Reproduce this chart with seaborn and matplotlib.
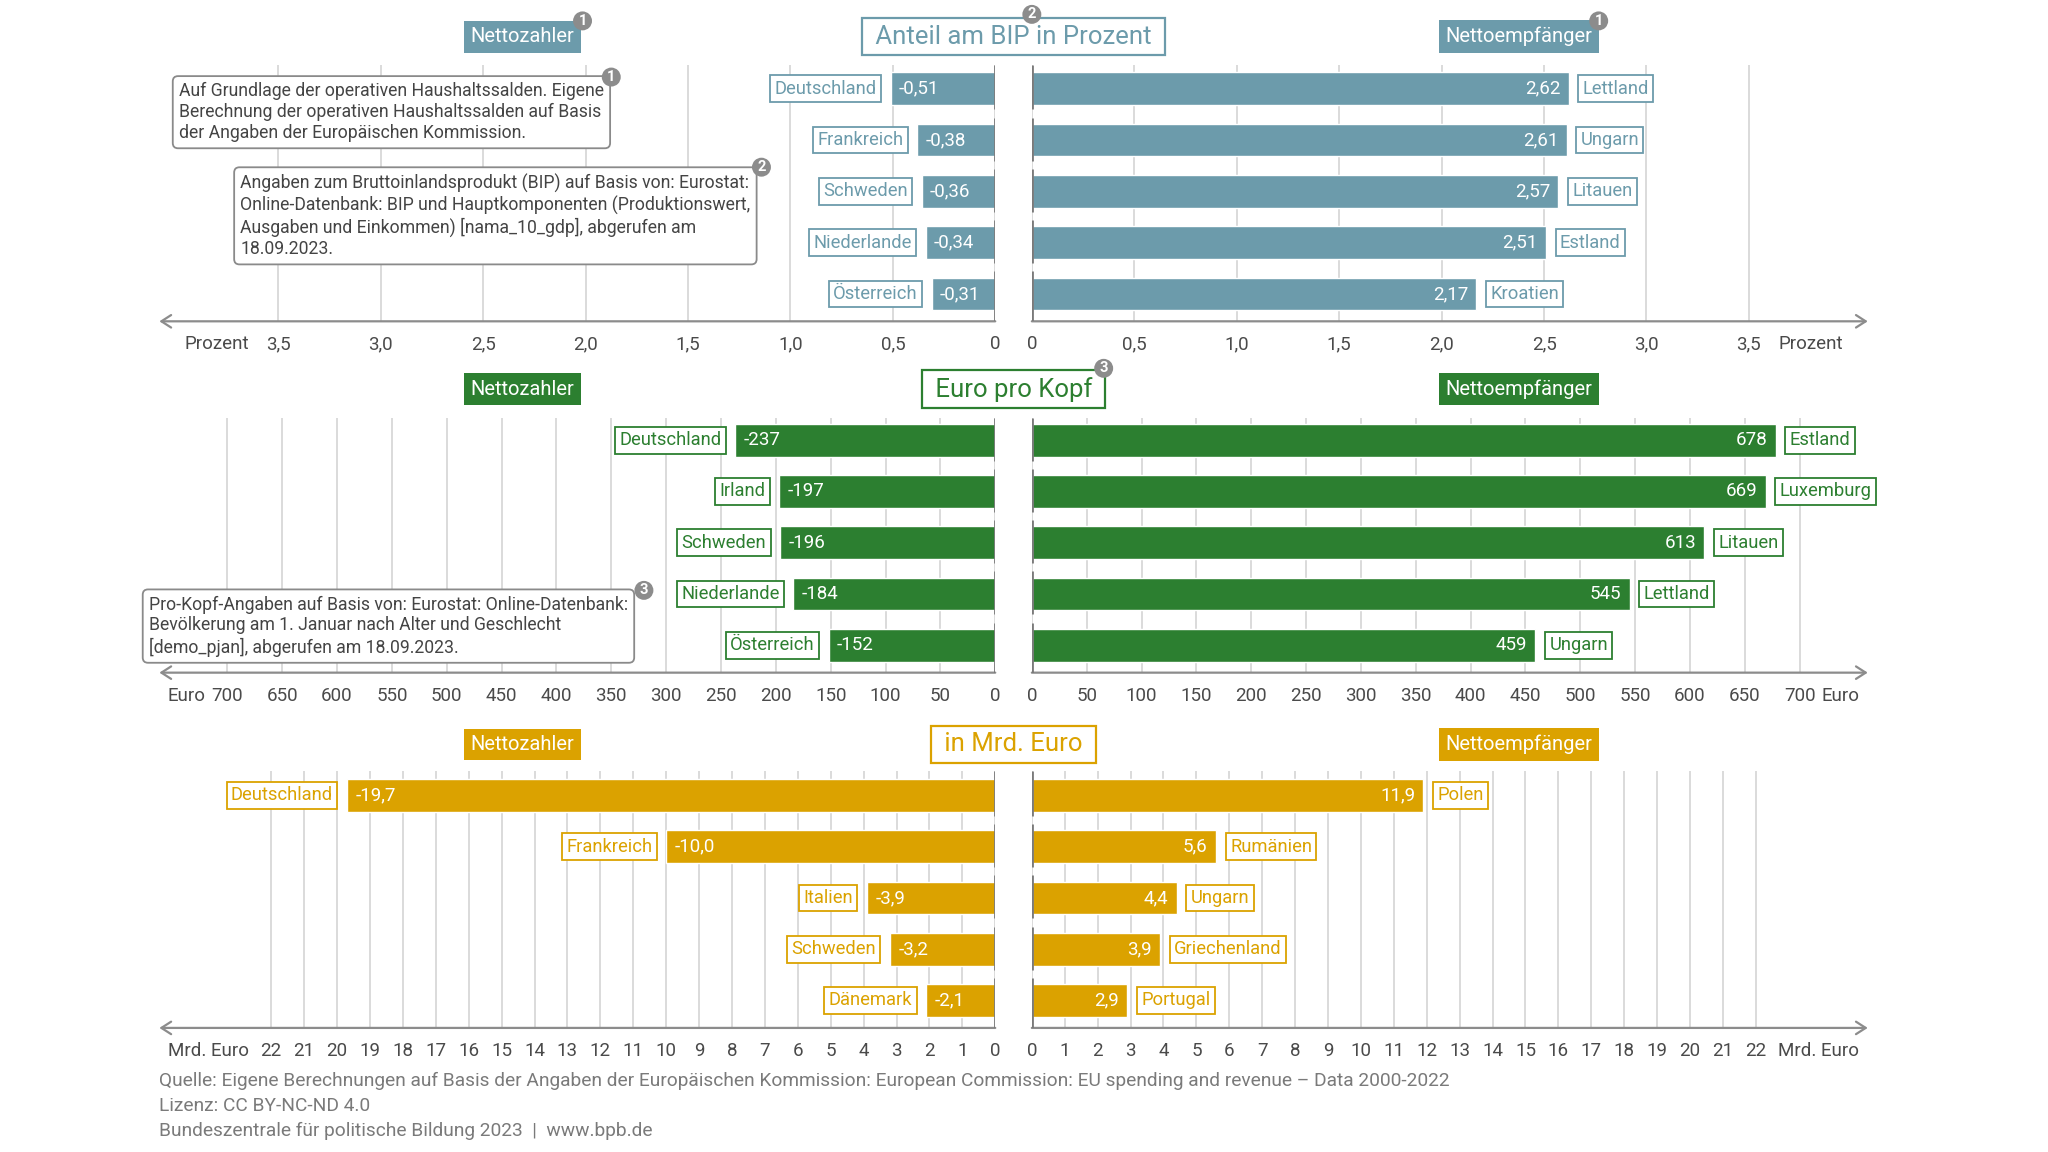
import matplotlib
matplotlib.use('Agg')
import matplotlib.pyplot as plt
import seaborn as sns

# Anteil am BIP in Prozent
bip_pay_countries = ['Deutschland', 'Frankreich', 'Schweden', 'Niederlande', 'Österreich']
bip_pay = [-0.51, -0.38, -0.36, -0.34, -0.31]
bip_rec_countries = ['Lettland', 'Ungarn', 'Litauen', 'Estland', 'Kroatien']
bip_rec = [2.62, 2.61, 2.57, 2.51, 2.17]
bip_ticks = [0, 0.5, 1.0, 1.5, 2.0, 2.5, 3.0, 3.5]

# Euro pro Kopf
kopf_pay_countries = ['Deutschland', 'Irland', 'Schweden', 'Niederlande', 'Österreich']
kopf_pay = [-237, -197, -196, -184, -152]
kopf_rec_countries = ['Estland', 'Luxemburg', 'Litauen', 'Lettland', 'Ungarn']
kopf_rec = [678, 669, 613, 545, 459]
kopf_ticks = [0, 50, 100, 150, 200, 250, 300, 350, 400, 450, 500, 550, 600, 650, 700]

# in Mrd. Euro
mrd_pay_countries = ['Deutschland', 'Frankreich', 'Italien', 'Schweden', 'Dänemark']
mrd_pay = [-19.7, -10.0, -3.9, -3.2, -2.1]
mrd_rec_countries = ['Polen', 'Rumänien', 'Ungarn', 'Griechenland', 'Portugal']
mrd_rec = [11.9, 5.6, 4.4, 3.9, 2.9]
mrd_ticks = [0, 1, 2, 3, 4, 5, 6, 7, 8, 9, 10, 11, 12, 13, 14, 15, 16, 17, 18, 19, 20, 21, 22]

TEAL = '#6c9bab'
GREEN = '#2c7f30'
GOLD = '#dba200'
GRID = '#d8d8d8'
AXIS = '#8c8c8c'
TXT = '#4a4a4a'

sns.set_style('white')
plt.rcParams['font.family'] = ['Roboto', 'DejaVu Sans']

W, H = 1568, 882   # layout measured on the reference in these units
fig = plt.figure(figsize=(20.48, 11.52), dpi=100)


def rect(x0, y0, x1, y1):
    return [x0 / W, 1 - y1 / H, (x1 - x0) / W, (y1 - y0) / H]


def fx(x):
    return x / W


def fy(y):
    return 1 - y / H


def comma(v, nd):
    return f'{v:.{nd}f}'.replace('.', ',')


def draw_half(ax, countries, values, color, ticks, xmax, ylim, left, nd_val, nd_tick, unit, unit_x):
    sns.barplot(x=values, y=countries, orient='y', color=color, saturation=1,
                width=0.64, errorbar=None, ax=ax)
    sign = -1 if left else 1
    ax.set_xlim((-xmax, 0) if left else (0, xmax))
    ax.set_ylim(*ylim)
    ax.set_xticks([sign * t for t in ticks])
    ax.set_xticklabels(['0' if t == 0 else comma(t, nd_tick) for t in ticks])
    ax.set_yticks([])
    ax.set_xlabel('')
    ax.set_ylabel('')
    for s in ax.spines.values():
        s.set_visible(False)
    ax.grid(axis='x', color=GRID, lw=1.3)
    ax.grid(axis='y', visible=False)
    ax.set_axisbelow(True)
    ax.tick_params(axis='x', direction='inout', length=9, width=1.5, color=AXIS,
                   labelsize=13.5, labelcolor=TXT, pad=5.5)
    # axis with arrow head
    ax.annotate('', xy=(sign * xmax, 0), xycoords=('data', 'axes fraction'),
                xytext=(0, 0), textcoords=('data', 'axes fraction'),
                arrowprops=dict(arrowstyle='->,head_length=0.7,head_width=0.45',
                                color=AXIS, lw=1.6, shrinkA=0, shrinkB=0),
                annotation_clip=False)
    ax.annotate(unit, xy=(sign * unit_x, 0), xycoords=('data', 'axes fraction'),
                xytext=(0, -10), textcoords='offset points', ha='center', va='top',
                fontsize=13.5, color=TXT, annotation_clip=False)
    # broken zero line
    n = len(values)
    for i in range(n):
        top = i - 0.44 if i > 0 else ylim[1]
        bot = i + 0.40 if i < n - 1 else ylim[0]
        ax.vlines(0, top, bot, color='#7a7a7a', lw=2, zorder=4)
    for i, (c, v) in enumerate(zip(countries, values)):
        inner = 6 if v < 0 else -6
        ax.annotate(comma(v, nd_val), (v, i), xytext=(inner, 0), textcoords='offset points',
                    ha='left' if v < 0 else 'right', va='center', color='white',
                    fontsize=13.5, zorder=5)
        ax.annotate(c, (v, i), xytext=(-10 if v < 0 else 10, 0), textcoords='offset points',
                    ha='right' if v < 0 else 'left', va='center', color=color, fontsize=13.2,
                    zorder=5,
                    bbox=dict(boxstyle='square,pad=0.24', fc='white', ec=color, lw=1.3))


panels = [
    dict(y0=50, y1=246, ylim=(4.534, -0.458), color=TEAL,
         pay=(bip_pay_countries, bip_pay), rec=(bip_rec_countries, bip_rec),
         ticks=bip_ticks, xmax=4.08, nd_val=2, nd_tick=1, unit='Prozent', unit_x=3.80,
         title='Anteil am BIP in Prozent', hy=28),
    dict(y0=320, y1=515, ylim=(4.535, -0.433), color=GREEN,
         pay=(kopf_pay_countries, kopf_pay), rec=(kopf_rec_countries, kopf_rec),
         ticks=kopf_ticks, xmax=762, nd_val=0, nd_tick=0, unit='Euro', unit_x=737,
         title='Euro pro Kopf', hy=298),
    dict(y0=590, y1=787, ylim=(4.535, -0.484), color=GOLD,
         pay=(mrd_pay_countries, mrd_pay), rec=(mrd_rec_countries, mrd_rec),
         ticks=mrd_ticks, xmax=25.4, nd_val=1, nd_tick=0, unit='Mrd. Euro', unit_x=23.9,
         title='in Mrd. Euro', hy=570),
]

for p in panels:
    ax_l = fig.add_axes(rect(122, p['y0'], 762, p['y1']))
    ax_r = fig.add_axes(rect(790, p['y0'], 1430, p['y1']))
    draw_half(ax_l, *p['pay'], p['color'], p['ticks'], p['xmax'], p['ylim'], True,
              p['nd_val'], p['nd_tick'], p['unit'], p['unit_x'])
    draw_half(ax_r, *p['rec'], p['color'], p['ticks'], p['xmax'], p['ylim'], False,
              p['nd_val'], p['nd_tick'], p['unit'], p['unit_x'])
    for x, label in [(400, 'Nettozahler'), (1163, 'Nettoempfänger')]:
        fig.text(fx(x), fy(p['hy']), label, ha='center', va='center', color='white',
                 fontsize=14.5, bbox=dict(boxstyle='square,pad=0.32', fc=p['color'], ec='none'))
    fig.text(fx(776), fy(p['hy']), ' ' + p['title'] + ' ', ha='center', va='center',
             color=p['color'], fontsize=18.5,
             bbox=dict(boxstyle='square,pad=0.26', fc='white', ec=p['color'], lw=1.6))


def note(x, y, text):
    fig.text(fx(x), fy(y), text, ha='left', va='top', fontsize=12.7, color='#444444',
             linespacing=1.2, zorder=6,
             bbox=dict(boxstyle='round,pad=0.35,rounding_size=0.3', fc='white',
                       ec='#8a8a8a', lw=1.3))


def badge(x, y, num):
    fig.text(fx(x), fy(y), num, ha='center', va='center', fontsize=10.5, color='white',
             weight='bold', zorder=7,
             bbox=dict(boxstyle='circle,pad=0.17', fc='#8c8c8c', ec='none'))


note(137, 63, 'Auf Grundlage der operativen Haushaltssalden. Eigene\n'
              'Berechnung der operativen Haushaltssalden auf Basis\n'
              'der Angaben der Europäischen Kommission.')
note(184, 133, 'Angaben zum Bruttoinlandsprodukt (BIP) auf Basis von: Eurostat:\n'
               'Online-Datenbank: BIP und Hauptkomponenten (Produktionswert,\n'
               'Ausgaben und Einkommen) [nama_10_gdp], abgerufen am\n'
               '18.09.2023.')
note(114, 456, 'Pro-Kopf-Angaben auf Basis von: Eurostat: Online-Datenbank:\n'
               'Bevölkerung am 1. Januar nach Alter und Geschlecht\n'
               '[demo_pjan], abgerufen am 18.09.2023.')

badge(446, 16, '1')
badge(790, 11, '2')
badge(1224, 16, '1')
badge(468, 59, '1')
badge(583, 128, '2')
badge(845, 282, '3')
badge(493, 452, '3')

fig.text(fx(122), fy(821),
         'Quelle: Eigene Berechnungen auf Basis der Angaben der Europäischen Kommission: '
         'European Commission: EU spending and revenue – Data 2000-2022\n'
         'Lizenz: CC BY-NC-ND 4.0\n'
         'Bundeszentrale für politische Bildung 2023  |  www.bpb.de',
         ha='left', va='top', fontsize=13.8, color='#7a7a7a', linespacing=1.48)

fig.savefig('out.png', dpi=100)
